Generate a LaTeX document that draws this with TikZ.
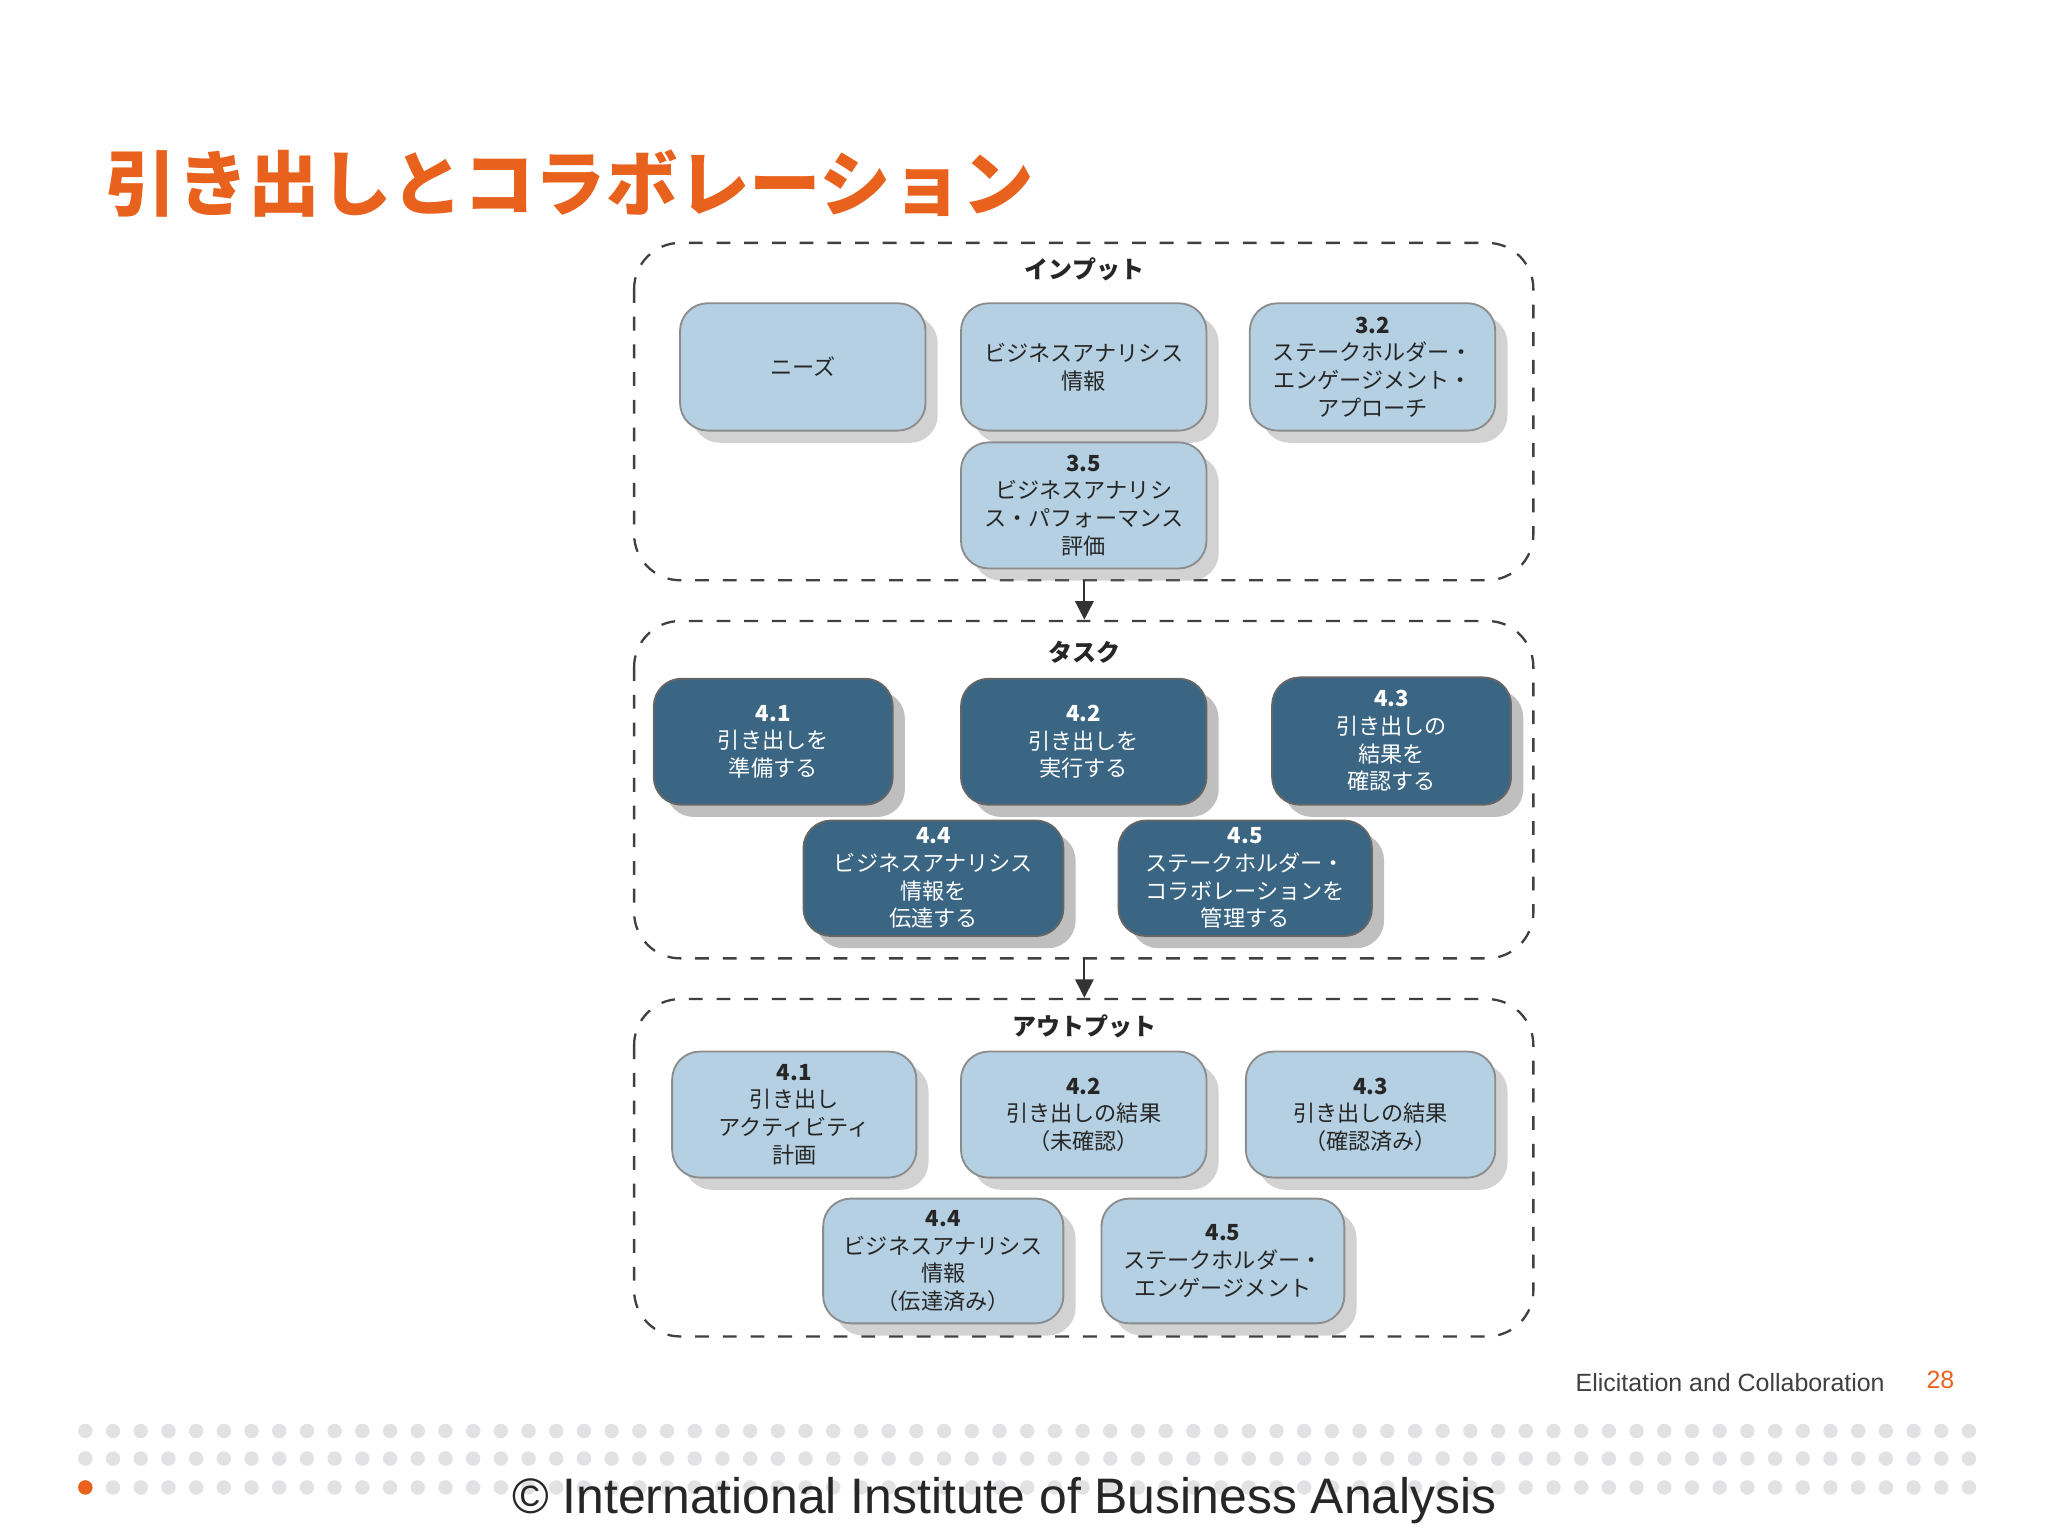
\documentclass[tikz,border=0pt]{standalone}
\usepackage{fontspec}
\setmainfont{Liberation Sans}
\newfontfamily\jp{Noto Sans CJK JP}
\usepackage[rgb]{xcolor}
\usetikzlibrary{shadows,arrows.meta}
\definecolor{ibaorange}{HTML}{E8621E}
\definecolor{lightbox}{HTML}{B4D0E2}
\definecolor{darkbox}{HTML}{3B6683}
\definecolor{dotgray}{HTML}{E2E2E4}
\tikzset{
  frame/.style={draw=black!75, dashed, rounded corners=10pt, line width=0.5pt},
  inbox/.style={draw=black!45, fill=lightbox, rounded corners=6pt, drop shadow={opacity=.35},
    align=center, inner sep=1pt, font=\jp\fontsize{4.8pt}{6pt}\selectfont, text=black!85},
  taskbox/.style={draw=black!60, fill=darkbox, rounded corners=6pt, drop shadow={opacity=.5},
    align=center, inner sep=1pt, font=\jp\fontsize{4.8pt}{6pt}\selectfont, text=white},
  head/.style={font=\jp\bfseries\fontsize{5.2pt}{6pt}\selectfont, text=black!85},
  flow/.style={-{Triangle[length=4pt,width=4pt]}, draw=black!80, fill=black!80}
}
\newcommand{\bx}[6]{\node[#1, minimum width={(#4-#2)*0.01cm}, minimum height={(#5-#3)*0.01cm}] (#6) at ({(#2+#4)/2},{(#3+#5)/2})}
\begin{document}
\begin{tikzpicture}[x=0.01cm, y=-0.01cm]
    \useasboundingbox[fill=white] (0,0) rectangle (1560,1170);
    % titel
    \node[anchor=west, text=ibaorange, font=\jp\bfseries\fontsize{15.5pt}{16pt}\selectfont] (title) at (68,140) {引き出しとコラボレーション};
    % kaders
    \draw[frame] (483,185) rectangle (1168,442);
    \draw[frame] (483,473) rectangle (1168,730);
    \draw[frame] (483,761) rectangle (1168,1018);
    \node[head] (inlabel) at (826,205) {インプット};
    \node[head] (tasklabel) at (826,497) {タスク};
    \node[head] (outlabel) at (826,782) {アウトプット};
    % inputs
    \bx{inbox}{518}{231}{705}{328}{needs} {ニーズ};
    \bx{inbox}{732}{231}{919}{328}{info} {ビジネスアナリシス\\情報};
    \bx{inbox}{952}{231}{1139}{328}{in32} {\textbf{3.2}\\ステークホルダー・\\エンゲージメント・\\アプローチ};
    \bx{inbox}{732}{337}{919}{433}{in35} {\textbf{3.5}\\ビジネスアナリシ\\ス・パフォーマンス\\評価};
    % taken
    \bx{taskbox}{498}{517}{680}{613}{t41} {\textbf{4.1}\\引き出しを\\準備する};
    \bx{taskbox}{732}{517}{919}{613}{t42} {\textbf{4.2}\\引き出しを\\実行する};
    \bx{taskbox}{969}{516}{1151}{613}{t43} {\textbf{4.3}\\引き出しの\\結果を\\確認する};
    \bx{taskbox}{612}{625}{810}{713}{t44} {\textbf{4.4}\\ビジネスアナリシス\\情報を\\伝達する};
    \bx{taskbox}{852}{625}{1045}{713}{t45} {\textbf{4.5}\\ステークホルダー・\\コラボレーションを\\管理する};
    % outputs
    \bx{inbox}{512}{801}{698}{897}{o41} {\textbf{4.1}\\引き出し\\アクティビティ\\計画};
    \bx{inbox}{732}{801}{919}{897}{o42} {\textbf{4.2}\\引き出しの結果\\（未確認）};
    \bx{inbox}{949}{801}{1139}{897}{o43} {\textbf{4.3}\\引き出しの結果\\（確認済み）};
    \bx{inbox}{627}{913}{810}{1008}{o44} {\textbf{4.4}\\ビジネスアナリシス\\情報\\（伝達済み）};
    \bx{inbox}{839}{913}{1024}{1008}{o45} {\textbf{4.5}\\ステークホルダー・\\エンゲージメント};
    % pijlen
    \coordinate (a1) at (826,442); \coordinate (a2) at (826,472);
    \coordinate (b1) at (826,730); \coordinate (b2) at (826,760);
    \draw[flow] (a1) -- (a2);
    \draw[flow] (b1) -- (b2);
    % voettekst
    \node[anchor=east, text=black!75, font=\fontsize{5.4pt}{6pt}\selectfont] (chapter) at (1448,1053) {Elicitation and Collaboration};
    \node[anchor=east, text=ibaorange, font=\fontsize{5.4pt}{6pt}\selectfont] (page) at (1501,1051) {28};
    \foreach \r in {1090,1111,1133}
      \foreach \i in {0,...,68}
        \fill[dotgray] ({65+\i*21.1},\r) circle (5.5);
    \fill[ibaorange] (65,1133) circle (5.5);
    \node[text=black!85, font=\fontsize{10.8pt}{12pt}\selectfont] (copy) at (765,1143) {© International Institute of Business Analysis};
\end{tikzpicture}
\end{document}
